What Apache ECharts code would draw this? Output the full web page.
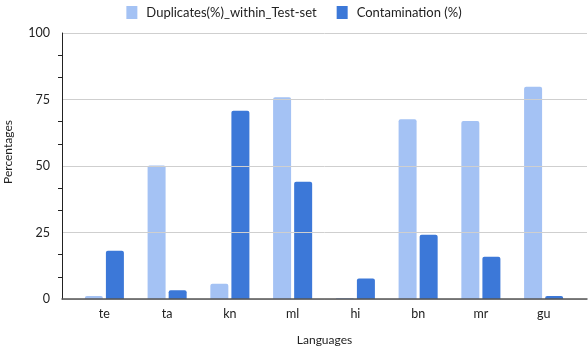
<!DOCTYPE html>
<html>
<head>
<meta charset="utf-8">
<script src="https://cdn.jsdelivr.net/npm/echarts@6/dist/echarts.min.js"></script>
<style>
  html, body { margin: 0; padding: 0; background: #fff; }
  #chart { width: 588px; height: 348px; }
</style>
</head>
<body>
<div id="chart"></div>
<script>
// data
const languages = ['te', 'ta', 'kn', 'ml', 'hi', 'bn', 'mr', 'gu'];
const duplicates = [1.1, 50.2, 5.7, 75.8, 0.4, 67.6, 66.9, 79.8];
const contamination = [18.1, 3.3, 70.8, 44.1, 7.7, 24.2, 15.9, 1.1];
const yTicks = [0, 25, 50, 75, 100];

const font = 'Lato, "Open Sans", sans-serif';
const chart = echarts.init(document.getElementById('chart'));

chart.setOption({
  animation: false,
  textStyle: { fontFamily: font },
  legend: {
    top: 1,
    left: 'center',
    itemWidth: 11,
    itemHeight: 13,
    itemGap: 20,
    icon: 'rect',
    textStyle: { fontSize: 13, color: '#222', fontFamily: font, padding: [0, 0, 0, 4] },
    data: ['Duplicates(%)_within_Test-set', 'Contamination (%)']
  },
  grid: [
    // frame grid: y axis, gridlines, baseline
    { left: 62, right: 1, top: 33, bottom: 49, outerBoundsMode: 'none', containLabel: false },
    // bars grid
    { left: 73, right: 13, top: 33, bottom: 49, outerBoundsMode: 'none', containLabel: false }
  ],
  xAxis: [
    {
      gridIndex: 0, type: 'value', min: 0, max: 1, z: 5,
      axisLine: { show: true, lineStyle: { color: '#555', width: 1.5 } },
      axisTick: { show: false }, axisLabel: { show: false }, splitLine: { show: false },
      name: 'Languages', nameLocation: 'middle', nameGap: 35,
      nameTextStyle: { fontSize: 12, color: '#222', fontFamily: font }
    },
    {
      gridIndex: 1, type: 'category', data: languages,
      axisLine: { show: false }, axisTick: { show: false },
      axisLabel: { fontSize: 12.5, color: '#222', margin: 8, fontFamily: font }
    }
  ],
  yAxis: [
    {
      gridIndex: 0, type: 'value', min: 0, max: 100, interval: 25, z: 5,
      axisLine: { show: true, lineStyle: { color: '#222', width: 1 } },
      axisTick: { show: false },
      minorTick: { show: true, splitNumber: 3, length: 4, lineStyle: { color: '#222' } },
      axisLabel: {
        fontSize: 12.5, color: '#222', margin: 12, fontFamily: font,
        formatter: v => (yTicks.includes(v) ? String(v) : '')
      },
      splitLine: { show: true, lineStyle: { color: '#cfcfcf', width: 1 } },
      name: 'Percentages', nameLocation: 'middle', nameGap: 48,
      nameTextStyle: { fontSize: 12, color: '#222', fontFamily: font, padding: [0, 0, 0, 28] }
    },
    {
      gridIndex: 1, type: 'value', min: 0, max: 100, show: false
    }
  ],
  series: [
    {
      name: 'Duplicates(%)_within_Test-set', type: 'bar',
      xAxisIndex: 1, yAxisIndex: 1,
      data: duplicates, barWidth: 18, barGap: '17%',
      itemStyle: { color: '#a4c2f4', borderRadius: [2, 2, 0, 0] }
    },
    {
      name: 'Contamination (%)', type: 'bar',
      xAxisIndex: 1, yAxisIndex: 1,
      data: contamination, barWidth: 18, barGap: '17%',
      itemStyle: { color: '#3c78d8', borderRadius: [2, 2, 0, 0] }
    }
  ]
});
</script>
</body>
</html>
